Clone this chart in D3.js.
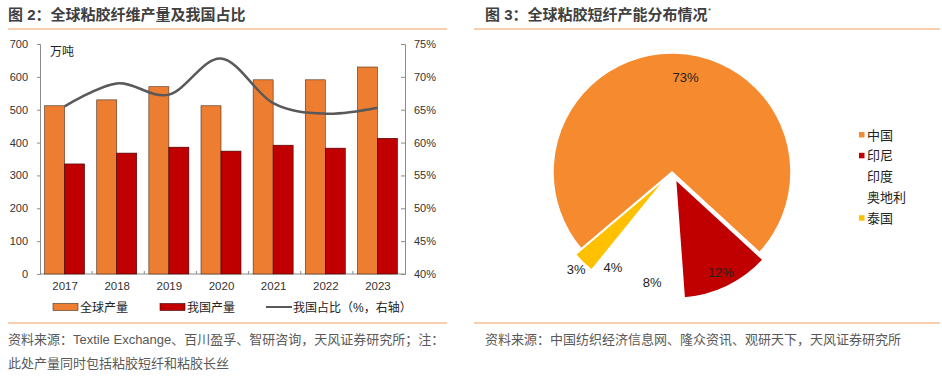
<!DOCTYPE html>
<html>
<head>
<meta charset="utf-8">
<script src="https://cdn.jsdelivr.net/npm/d3@7"></script>
<style>
  body { margin: 0; background: #fff; }
  text { font-family: "Liberation Sans", "Noto Sans CJK SC", sans-serif; }
</style>
</head>
<body>
<script>
// left chart data
let years = ["2017", "2018", "2019", "2020", "2021", "2022", "2023"];
let globalOutput = [512, 530, 570, 512, 591, 591, 630];
let chinaOutput = [335, 368, 386, 374, 392, 383, 413];
let chinaShare = [65.5, 69.0, 67.3, 72.8, 66.0, 64.4, 65.3];
let leftTicks = [0, 100, 200, 300, 400, 500, 600, 700];
let rightTicks = [40, 45, 50, 55, 60, 65, 70, 75];

// right chart data
let countries = ["中国", "印尼", "印度", "奥地利", "泰国"];
let capacityShare = [73, 12, 8, 4, 3];
let sliceColors = ["#F58A2E", "#C00000", "#FFFFFF", "#FFFFFF", "#FFC000"];

let svg = d3.select("body").append("svg")
  .attr("width", 942)
  .attr("height", 376);

let orange = "#ED7D31";
let red = "#C00000";
let grey = "#595959";

// titles and rules
svg.append("text").attr("x", 8).attr("y", 20)
  .style("font-size", "15px").style("font-weight", "bold").attr("fill", "#404040")
  .text("图 2：全球粘胶纤维产量及我国占比");
svg.append("text").attr("x", 485).attr("y", 20)
  .style("font-size", "15px").style("font-weight", "bold").attr("fill", "#404040")
  .text("图 3：全球粘胶短纤产能分布情况");
svg.append("text").attr("x", 708).attr("y", 13)
  .style("font-size", "8px").attr("fill", "#404040").text("*");

[[8, 447], [474, 940]].forEach((r) => {
  svg.append("line").attr("x1", r[0]).attr("x2", r[1]).attr("y1", 29).attr("y2", 29)
    .attr("stroke", "#F0A060").attr("stroke-width", 1.2);
  svg.append("line").attr("x1", r[0]).attr("x2", r[1]).attr("y1", 323).attr("y2", 323)
    .attr("stroke", "#F0A060").attr("stroke-width", 1.2);
});

svg.append("text").attr("x", 8).attr("y", 344).style("font-size", "13px").attr("fill", grey)
  .text("资料来源：Textile Exchange、百川盈孚、智研咨询，天风证券研究所；注：");
svg.append("text").attr("x", 8).attr("y", 368).style("font-size", "13px").attr("fill", grey)
  .text("此处产量同时包括粘胶短纤和粘胶长丝");
svg.append("text").attr("x", 485).attr("y", 344).style("font-size", "13px").attr("fill", grey)
  .text("资料来源：中国纺织经济信息网、隆众资讯、观研天下，天风证券研究所");

// ---------- left: bars + line ----------
let xScale = d3.scaleBand().domain(years).range([40, 405]);
let yLeft = d3.scaleLinear().domain([0, 700]).range([274, 44]);
let yRight = d3.scaleLinear().domain([40, 75]).range([274, 44]);
let bw = 20;

let axisColor = "#8C8C8C";

let gL = svg.append("g").attr("transform", "translate(40,0)")
  .call(d3.axisLeft(yLeft).tickValues(leftTicks).tickSize(3).tickPadding(9));
let gR = svg.append("g").attr("transform", "translate(405,0)")
  .call(d3.axisRight(yRight).tickValues(rightTicks).tickSize(-4).tickPadding(9)
    .tickFormat((d) => d + "%"));
[gL, gR].forEach((g) => {
  g.select(".domain").attr("stroke", axisColor);
  g.selectAll(".tick line").attr("stroke", axisColor);
  g.selectAll(".tick text").style("font-size", "11px").attr("fill", "#333");
});

// bottom axis
svg.append("line").attr("x1", 40).attr("x2", 405).attr("y1", 274).attr("y2", 274)
  .attr("stroke", axisColor);
svg.selectAll(".xtick").data(years.slice(1)).enter().append("line")
  .attr("x1", (d) => xScale(d)).attr("x2", (d) => xScale(d))
  .attr("y1", 274).attr("y2", 271).attr("stroke", axisColor);
svg.selectAll(".xlabel").data(years).enter().append("text")
  .attr("x", (d) => xScale(d) + xScale.bandwidth() / 2 - 1)
  .attr("y", 290)
  .attr("text-anchor", "middle")
  .style("font-size", "11.5px").attr("fill", "#333")
  .text((d) => d);

let mid = (d) => xScale(d) + xScale.bandwidth() / 2 - 1.5;

svg.selectAll(".gbar").data(years).enter().append("rect")
  .attr("x", (d) => mid(d) - bw)
  .attr("y", (d, i) => yLeft(globalOutput[i]))
  .attr("width", bw)
  .attr("height", (d, i) => 274 - yLeft(globalOutput[i]))
  .attr("fill", orange).attr("stroke", "#4a3020").attr("stroke-width", 0.6);

svg.selectAll(".cbar").data(years).enter().append("rect")
  .attr("x", (d) => mid(d))
  .attr("y", (d, i) => yLeft(chinaOutput[i]))
  .attr("width", bw)
  .attr("height", (d, i) => 274 - yLeft(chinaOutput[i]))
  .attr("fill", red).attr("stroke", "#3a0000").attr("stroke-width", 0.6);

let line = d3.line()
  .x((d, i) => mid(years[i]))
  .y((d) => yRight(d))
  .curve(d3.curveCardinal.tension(0));
svg.append("path").datum(chinaShare)
  .attr("d", line).attr("fill", "none")
  .attr("stroke", "#595959").attr("stroke-width", 2.5);

svg.append("text").attr("x", 50).attr("y", 56).style("font-size", "12px").attr("fill", "#222")
  .text("万吨");

// legend
let lg = svg.append("g");
lg.append("rect").attr("x", 53).attr("y", 303.5).attr("width", 25).attr("height", 7)
  .attr("fill", orange).attr("stroke", "#4a3020").attr("stroke-width", 0.6);
lg.append("text").attr("x", 80).attr("y", 311.5).style("font-size", "12px").attr("fill", "#222").text("全球产量");
lg.append("rect").attr("x", 160).attr("y", 303.5).attr("width", 25).attr("height", 7)
  .attr("fill", red).attr("stroke", "#3a0000").attr("stroke-width", 0.6);
lg.append("text").attr("x", 187).attr("y", 311.5).style("font-size", "12px").attr("fill", "#222").text("我国产量");
lg.append("line").attr("x1", 266).attr("x2", 292).attr("y1", 307).attr("y2", 307)
  .attr("stroke", "#595959").attr("stroke-width", 2);
lg.append("text").attr("x", 293).attr("y", 311.5).style("font-size", "12px").attr("fill", "#222").text("我国占比（%，右轴）");

// ---------- right: pie ----------
let cx = 672, cy = 172, r = 119;
let start = 229.8 * Math.PI / 180;
let pie = d3.pie().sort(null).startAngle(start).endAngle(start + 2 * Math.PI);
let arcs = pie(capacityShare);
let arc = d3.arc().innerRadius(0).outerRadius(r);

let pg = svg.append("g").attr("transform", "translate(" + cx + "," + cy + ")");
let offset = (d, i) => {
  let a = (d.startAngle + d.endAngle) / 2;
  let e = i === 0 ? 0 : 8;
  return [Math.sin(a) * e, -Math.cos(a) * e];
};
pg.selectAll(".slice").data(arcs).enter().append("path")
  .attr("transform", (d, i) => "translate(" + offset(d, i) + ")")
  .attr("d", arc)
  .attr("fill", (d, i) => sliceColors[i])
  .attr("stroke", "#fff").attr("stroke-width", 1.5);

let labelR = (i) => i === 0 ? 95 : i === 4 ? 137 : 112;
let labelShift = (i) => i === 0 ? 7 * Math.PI / 180 : 0;
pg.selectAll(".plabel").data(arcs).enter().append("text")
  .attr("x", (d, i) => Math.sin((d.startAngle + d.endAngle) / 2 + labelShift(i)) * labelR(i))
  .attr("y", (d, i) => -Math.cos((d.startAngle + d.endAngle) / 2 + labelShift(i)) * labelR(i) + 4.5)
  .attr("text-anchor", "middle")
  .style("font-size", "13px").attr("fill", "#222")
  .text((d) => d.data + "%");

// pie legend
let leg = svg.append("g");
countries.forEach((c, i) => {
  let y = 135 + i * 20.8;
  if (sliceColors[i] !== "#FFFFFF") {
    leg.append("rect").attr("x", 859).attr("y", y - 3).attr("width", 5.5).attr("height", 5.5)
      .attr("fill", sliceColors[i]);
  }
  leg.append("text").attr("x", 867).attr("y", y + 4.5).style("font-size", "13px").attr("fill", "#222").text(c);
});
</script>
</body>
</html>
